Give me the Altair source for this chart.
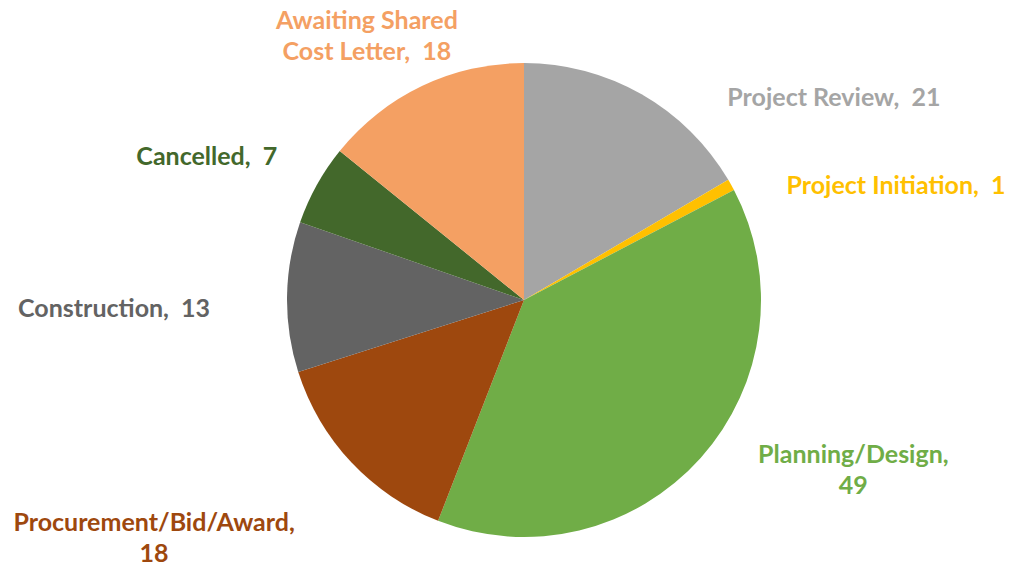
import math
import altair as alt
import pandas as pd

# ---- data ----
categories = ["Project Review", "Project Initiation", "Planning/Design",
              "Procurement/Bid/Award", "Construction", "Cancelled",
              "Awaiting Shared Cost Letter"]
values = [21, 1, 49, 18, 13, 7, 18]
colors = ["#A5A5A5", "#FFC000", "#70AD47", "#9E480E", "#636363", "#43682B", "#F4A063"]
NB = "\u00a0"
label_text = [f"Project Review,{NB} 21", f"Project Initiation,{NB} 1", "Planning/Design,\n49",
              "Procurement/Bid/Award,\n18", f"Construction,{NB} 13", f"Cancelled,{NB} 7",
              f"Awaiting Shared\nCost Letter,{NB} 18"]

# ---- label layout (polar offset of first text line from pie centre:
#      degrees clockwise from top, pixels) ----
label_angle_deg = [56.9, 73.0, 115.2, 238.9, 268.7, 294.3, 330.6]
label_radius = [370, 389, 364, 432, 410, 348, 320]

df = pd.DataFrame({
    "category": categories,
    "value": values,
    "order": list(range(len(categories))),
})
lab = pd.DataFrame({
    "category": categories,
    "label": label_text,
    "ang": [math.radians(a) for a in label_angle_deg],
    "r": label_radius,
})

cx, cy = 516, 292
color_scale = alt.Scale(domain=categories, range=colors)

pie = alt.Chart(df).mark_arc(outerRadius=237).encode(
    theta=alt.Theta("value:Q", stack=True),
    order=alt.Order("order:Q"),
    color=alt.Color("category:N", scale=color_scale, legend=None),
    x=alt.value(cx),
    y=alt.value(cy),
)

labels = alt.Chart(lab).mark_text(
    font="Lato", fontWeight="bold", fontSize=25, lineBreak="\n", lineHeight=31,
    align="center", baseline="middle",
).encode(
    text="label:N",
    theta=alt.Theta("ang:Q", scale=None),
    radius=alt.Radius("r:Q", scale=None),
    color=alt.Color("category:N", scale=color_scale, legend=None),
    x=alt.value(cx),
    y=alt.value(cy),
)

chart = alt.layer(pie, labels).properties(
    width=997, height=554, padding=0,
    autosize=alt.AutoSizeParams(type="none"),
).configure_view(stroke=None)

chart.save("out.html", embed_options={"renderer": "svg", "actions": False})
